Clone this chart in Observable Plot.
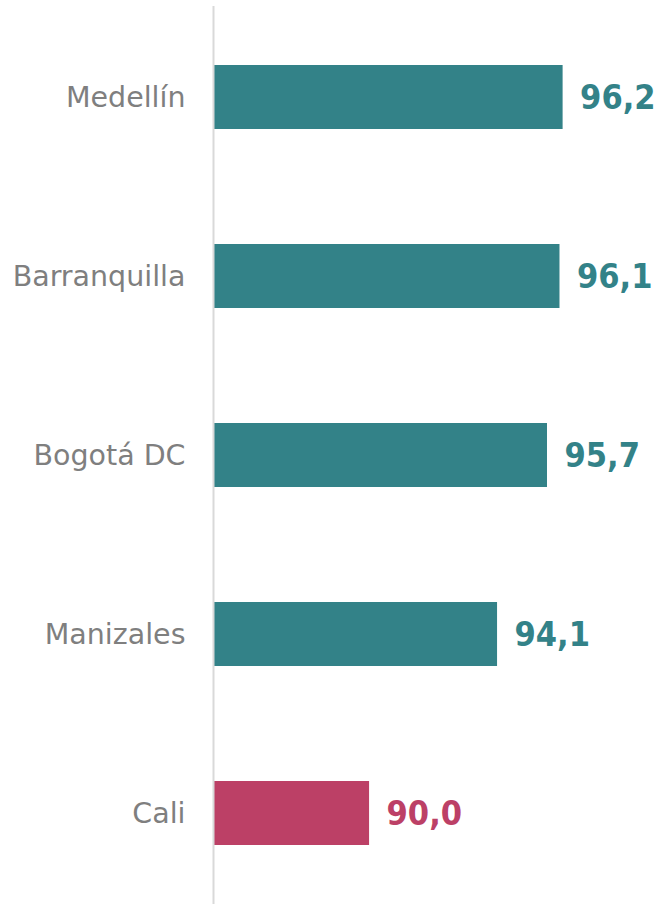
<!DOCTYPE html>
<html>
<head>
<meta charset="utf-8">
<script src="https://cdn.jsdelivr.net/npm/d3@7"></script>
<script src="https://cdn.jsdelivr.net/npm/@observablehq/plot@0.6"></script>
<style>
  html, body { margin: 0; padding: 0; background: #ffffff; }
  #chart { width: 660px; height: 904px; }
</style>
</head>
<body>
<div id="chart"></div>
<script>
const cities = ["Medellín", "Barranquilla", "Bogotá DC", "Manizales", "Cali"];
const values = [96.2, 96.1, 95.7, 94.1, 90.0];
const highlight = ["no", "no", "no", "no", "yes"];
const xDomain = [85, 99];
const colorDomain = ["no", "yes"];
const colorRange = ["#338288", "#bc4066"];

const data = cities.map((c, i) => ({ city: c, value: values[i], hl: highlight[i] }));
const fmt = v => v.toFixed(1).replace(".", ",");
const font = "DejaVu Sans, sans-serif";

const chart = Plot.plot({
  width: 660,
  height: 904,
  marginTop: 6,
  marginBottom: 0,
  marginLeft: 213,
  marginRight: 10,
  style: { fontFamily: font, background: "#ffffff" },
  x: { domain: xDomain, axis: null },
  y: { domain: cities, padding: 0.644, paddingOuter: 0.32, label: null },
  color: { domain: colorDomain, range: colorRange },
  marks: [
    Plot.barX(data, { y: "city", x1: xDomain[0], x2: "value", fill: "hl" }),
    Plot.ruleX([xDomain[0]], { stroke: "#d9d9d9", strokeWidth: 2 }),
    Plot.axisY({ tickSize: 0, tickPadding: 28, fontSize: 28.5, fill: "#7f7f7f", label: null }),
    Plot.text(data, {
      y: "city", x: "value", text: d => fmt(d.value), fill: "hl",
      textAnchor: "start", dx: 17, dy: 1, fontSize: 34, fontWeight: "bold",
      fontFamily: "DejaVu Sans Condensed, DejaVu Sans, sans-serif"
    })
  ]
});
document.getElementById("chart").appendChild(chart);
</script>
</body>
</html>
